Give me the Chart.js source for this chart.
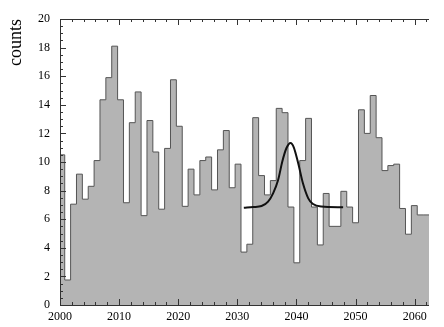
<!DOCTYPE html>
<html>
<head>
<meta charset="utf-8">
<script src="https://cdn.jsdelivr.net/npm/chart.js@4/dist/chart.umd.min.js"></script>
<style>
  html, body { margin:0; padding:0; background:#fff; }
</style>
</head>
<body>
<canvas id="c" width="444" height="327"></canvas>
<script>
// histogram: first bin starts just left of the axis, fixed bin width
const BIN_LO = 1999.806;
const BIN_WIDTH = 0.994;
const counts = [
  5.5, 10.5, 1.75, 7.05, 9.15, 7.4, 8.3, 10.1, 14.35, 15.9,
  18.1, 14.35, 7.15, 12.75, 14.9, 6.25, 12.9, 10.7, 6.7, 10.95,
  15.75, 12.5, 6.9, 9.5, 7.7, 10.1, 10.35, 8.05, 10.85, 12.2,
  8.2, 9.85, 3.7, 4.25, 13.1, 9.05, 7.7, 8.7, 13.75, 13.45,
  6.85, 2.95, 10.1, 13.05, 6.85, 4.2, 7.8, 5.5, 5.5, 7.95,
  6.85, 5.75, 13.65, 12.0, 14.65, 11.7, 9.4, 9.75, 9.85, 6.75,
  4.95, 6.95, 6.3
];

// fit curve
const fitX = [2031.1, 2032.7, 2034.1, 2035.2, 2036.05, 2036.9, 2037.6, 2038.3, 2039.0, 2039.55, 2040.3, 2041.1, 2042.0, 2042.8, 2044.2, 2047.9];
const fitY = [6.80, 6.85, 6.92, 7.23, 7.81, 8.74, 10.02, 10.96, 11.33, 11.03, 9.91, 8.51, 7.46, 7.06, 6.88, 6.83];

const xTicks = [2000, 2010, 2020, 2030, 2040, 2050, 2060];
const yTicks = [0, 2, 4, 6, 8, 10, 12, 14, 16, 18, 20];

const SERIF = '"Liberation Serif", "Times New Roman", serif';
const X_MAX = BIN_LO + counts.length * BIN_WIDTH;

const histPoints = counts.map((v, i) => ({ x: BIN_LO + i * BIN_WIDTH, y: v }));
histPoints.push({ x: X_MAX, y: counts[counts.length - 1] });

// ROOT-like frame: inward ticks, top mirror axis
const frameTicks = {
  id: 'frameTicks',
  afterDatasetsDraw(chart){
    const { ctx, chartArea: a, scales: { x, y } } = chart;
    ctx.save();
    ctx.strokeStyle = '#333';
    ctx.lineWidth = 1;
    ctx.beginPath();
    ctx.moveTo(a.left + .5, a.top + .5);
    ctx.lineTo(a.left + .5, a.bottom + .5);
    ctx.lineTo(a.right, a.bottom + .5);
    ctx.moveTo(a.left, a.top + .5);
    ctx.lineTo(a.right, a.top + .5);
    for (let v = 0; v <= 20.001; v += 0.5){
      const py = Math.round(y.getPixelForValue(v)) + .5;
      const len = Math.abs(v % 2) < 1e-6 ? 6 : 3;
      ctx.moveTo(a.left, py);
      ctx.lineTo(a.left + len, py);
    }
    for (let v = 2000; v <= X_MAX; v += 2){
      const px = Math.round(x.getPixelForValue(v)) + .5;
      const len = v % 10 === 0 ? 6 : 3;
      ctx.moveTo(px, a.bottom);
      ctx.lineTo(px, a.bottom - len);
      ctx.moveTo(px, a.top);
      ctx.lineTo(px, a.top + len);
    }
    ctx.stroke();
    ctx.restore();
  }
};

new Chart(document.getElementById('c'), {
  type: 'line',
  data: {
    datasets: [
      {
        label: 'counts',
        data: histPoints,
        stepped: 'after',
        fill: 'origin',
        backgroundColor: '#b4b4b4',
        borderColor: '#555',
        borderWidth: 1,
        pointRadius: 0,
        order: 2,
      },
      {
        label: 'fit',
        data: fitX.map((x, i) => ({ x, y: fitY[i] })),
        borderColor: '#111',
        borderWidth: 2,
        cubicInterpolationMode: 'monotone',
        pointRadius: 0,
        fill: false,
        order: 1,
      },
    ],
  },
  options: {
    responsive: false,
    animation: false,
    layout: { padding: { top: 19, right: 15, left: 0, bottom: 0 } },
    plugins: { legend: { display: false }, tooltip: { enabled: false } },
    scales: {
      x: {
        type: 'linear',
        min: 2000,
        max: X_MAX,
        grid: { display: false, drawTicks: false },
        border: { display: false },
        afterBuildTicks: (s) => { s.ticks = xTicks.map(v => ({ value: v })); },
        afterFit: (s) => { s.height = 22; },
        ticks: {
          color: '#000',
          padding: 5,
          maxRotation: 0,
          autoSkip: false,
          font: { family: SERIF, size: 12 },
          callback: (v) => String(v),
        },
      },
      y: {
        min: 0,
        max: 20,
        grid: { display: false, drawTicks: false },
        border: { display: false },
        afterBuildTicks: (s) => { s.ticks = yTicks.map(v => ({ value: v })); },
        afterFit: (s) => { s.width = 60; },
        ticks: {
          color: '#000',
          padding: 10,
          font: { family: SERIF, size: 12 },
        },
        title: {
          display: true,
          text: 'counts',
          align: 'end',
          color: '#000',
          padding: { top: 5, bottom: 0 },
          font: { family: SERIF, size: 18 },
        },
      },
    },
  },
  plugins: [frameTicks],
});
</script>
</body>
</html>
